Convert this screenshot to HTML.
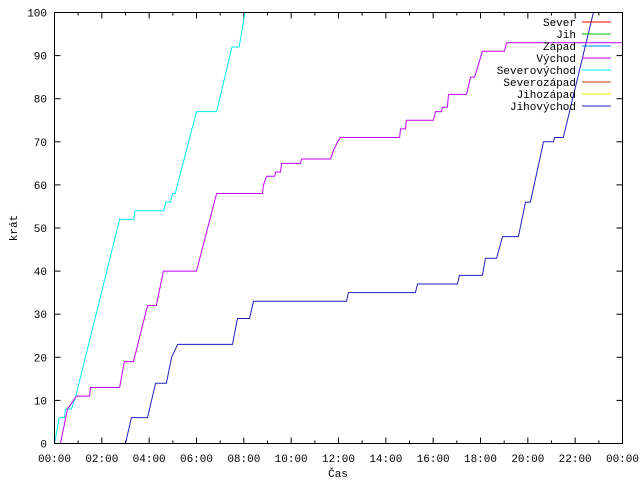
<!DOCTYPE html>
<html><head><meta charset="utf-8"><style>
html,body{margin:0;padding:0;background:#fff;}
svg{display:block;font-family:"Liberation Mono","DejaVu Sans Mono",monospace;font-size:11px;}
</style></head><body>
<svg id="chart" width="640" height="480" viewBox="0 0 640 480" xmlns="http://www.w3.org/2000/svg">
<rect x="0" y="0" width="640" height="480" fill="#fff"/>
<g id="axes"></g>
<g id="series"></g>
<rect x="54.5" y="12.5" width="568" height="431" fill="none" stroke="#000" stroke-width="1"/>
<g id="legend"></g>
<text x="0" y="0" text-anchor="middle" transform="translate(17,228) rotate(-90)">krát</text>
<text x="338" y="477" text-anchor="middle">Čas</text>
</svg>
<script>
const xTickLabels = ["00:00","02:00","04:00","06:00","08:00","10:00","12:00","14:00","16:00","18:00","20:00","22:00","00:00"];
const yTicks = [0,10,20,30,40,50,60,70,80,90,100];
const legendNames = ["Sever","Jih","Západ","Východ","Severovýchod","Severozápad","Jihozápad","Jihovýchod"];
const legendColors = ["#ff0000","#00c000","#0080ff","#c000ff","#00eeee","#c04000","#eeee00","#2020c0"];
// Východ (magenta)
const vychodT = [0.25,0.4,0.55,0.93,1.48,1.52,2.75,2.95,3.34,3.93,4.3,4.6,6.0,6.85,8.79,8.83,8.96,9.3,9.35,9.55,9.59,10.39,10.44,11.66,11.79,11.96,12.08,14.58,14.62,14.83,14.87,16.01,16.1,16.35,16.39,16.6,16.65,17.41,17.58,17.75,18.08,19.01,19.1,24];
const vychodV = [0,4,8,11,11,13,13,19,19,32,32,40,40,58,58,60,62,62,63,63,65,65,66,66,68,70,71,71,73,73,75,75,77,77,78,78,81,81,85,85,91,91,93,93];
// Severovýchod (cyan)
const svT = [0,0.2,0.42,0.46,0.72,0.9,2.75,3.35,3.4,4.62,4.7,4.9,4.98,5.1,6.0,6.85,7.5,7.8,8.05];
const svV = [0,6,6,8,8,11,52,52,54,54,56,56,58,58,77,77,92,92,100];
// Jihovýchod (blue)
const jvT = [3.0,3.25,3.93,4.27,4.73,4.95,5.2,7.52,7.73,8.24,8.41,12.34,12.42,15.25,15.34,17.03,17.11,18.08,18.21,18.68,18.93,19.6,19.9,20.11,20.66,21.08,21.13,21.5,22.77];
const jvV = [0,6,6,14,14,20,23,23,29,29,33,33,35,35,37,37,39,39,43,43,48,48,56,56,70,70,71,71,100];

const X0=54.5, X1=622.5, Y0=443.5, Y1=12.5;
const xs = h => X0 + (X1-X0)*h/24;
const ys = v => Y0 - (Y0-Y1)*v/100;
const NS="http://www.w3.org/2000/svg";
function mk(tag, attrs, parent){const e=document.createElementNS(NS,tag);for(const k in attrs)e.setAttribute(k,attrs[k]);parent.appendChild(e);return e;}
const axes=document.getElementById('axes');
for(let h=0;h<=24;h++){
  const x=xs(h), L=(h%2===0)?6:3;
  const t1=mk('line',{x1:x,y1:Y0,x2:x,y2:Y0-L,stroke:'#000'},axes);
  
  
  const t2=mk('line',{x1:x,y1:Y1,x2:x,y2:Y1+L,stroke:'#000'},axes);
  
  
}
xTickLabels.forEach((s,i)=>{
  const t=mk('text',{x:xs(i*2),y:462,'text-anchor':'middle'},axes);
  t.textContent=s;
  
  
});
yTicks.forEach(v=>{
  const y=ys(v);
  const a=mk('line',{x1:X0,y1:y,x2:X0+6,y2:y,stroke:'#000'},axes);
  
  
  const b=mk('line',{x1:X1,y1:y,x2:X1-6,y2:y,stroke:'#000'},axes);
  
  
  const t=mk('text',{x:47,y:y+4,'text-anchor':'end'},axes);
  t.textContent=v;
  
  
});
const series=document.getElementById('series');
function line(T,V,color,name){
  const pts=T.map((t,i)=>xs(t).toFixed(1)+','+ys(V[i]).toFixed(1)).join(' ');
  const p=mk('polyline',{points:pts,fill:'none',stroke:color,'stroke-width':1},series);
  
  
}
line(svT,svV,legendColors[4],'line-severovychod');
line(vychodT,vychodV,legendColors[3],'line-vychod');
line(jvT,jvV,legendColors[7],'line-jihovychod');
const lg=document.getElementById('legend');
legendNames.forEach((n,i)=>{
  const y=22+i*12;
  const t=mk('text',{x:576,y:y+4,'text-anchor':'end'},lg);
  t.textContent=n;
  
  
  const l=mk('line',{x1:582,y1:y,x2:611,y2:y,stroke:legendColors[i],'stroke-width':1},lg);
  
  
});
</script>
</body></html>
